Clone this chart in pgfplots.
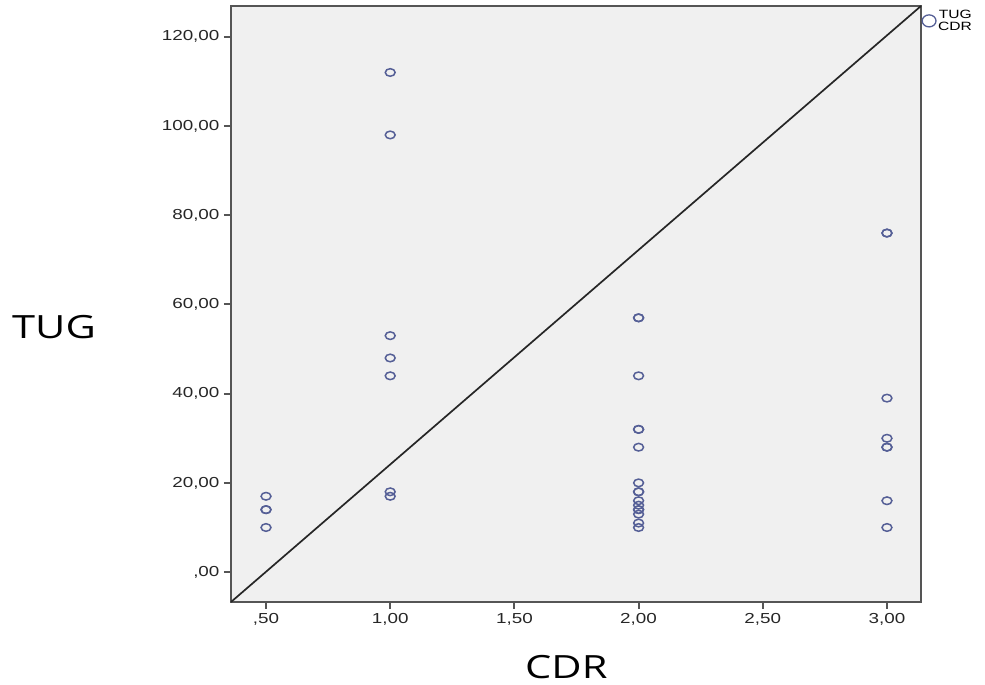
\documentclass[border=0pt]{standalone}
\usepackage{fontspec}
\setmainfont{Liberation Sans}[FakeStretch=1.3]
\newfontfamily\labelfont{Open Sans}[FakeStretch=1.3]
\usepackage{pgfplots}
\pgfplotsset{compat=1.18}

\definecolor{plotbg}{HTML}{F0F0F0}
\definecolor{frame}{HTML}{555555}
\definecolor{markc}{RGB}{85,95,150}

\begin{document}
\begin{tikzpicture}
\begin{axis}[
  name=ax,
  scale only axis,
  width=690pt, height=596pt,
  xmin=0.359, xmax=3.137, ymin=-6.7, ymax=126.9,
  axis background/.style={fill=plotbg},
  axis line style={frame, line width=2pt},
  xtick={0.5,1,1.5,2,2.5,3},
  xticklabels={{,50},{1,00},{1,50},{2,00},{2,50},{3,00}},
  ytick={0,20,40,60,80,100,120},
  yticklabels={{,00},{20,00},{40,00},{60,00},{80,00},{100,00},{120,00}},
  tick pos=left, tick align=outside,
  major tick length=7pt,
  every tick/.style={frame, line width=2pt},
  tick label style={font=\fontsize{14.5}{16}\selectfont, text=black!85},
  xticklabel style={yshift=-1pt},
  yticklabel style={xshift=-1pt},
  xlabel={\labelfont\fontsize{32}{36}\selectfont CDR},
  ylabel={\labelfont\fontsize{32}{36}\selectfont TUG},
  xlabel style={at={(axis description cs:0.486,-0.109)}, anchor=center},
  ylabel style={rotate=-90, at={(axis description cs:-0.2565,0.461)}, anchor=center},
  legend style={draw=none, fill=none, at={(axis description cs:1.0,1.0)},
    xshift=1pt, yshift=-2pt,
    anchor=north west, font=\fontsize{12}{10}\selectfont, inner sep=0pt,
    legend cell align=right},
  clip=false,
]
% reference line, corner to corner
\addplot[black!85, line width=1.7pt, forget plot] coordinates {(0.359,-6.7)(3.137,126.9)};
\addplot[only marks, mark=o, mark size=3.8pt, forget plot,
  mark options={xscale=1.3, draw=markc, line width=1.5pt}] coordinates {
  (0.5,17)(0.5,14)(0.5,14)(0.5,10)
  (1,112)(1,98)(1,53)(1,48)(1,44)(1,18)(1,17)
  (2,57)(2,57)(2,44)(2,32)(2,32)(2,28)(2,20)(2,18)(2,18)(2,16)(2,15)
  (2,14)(2,14)(2,13)(2,11)(2,10)
  (3,76)(3,76)(3,39)(3,30)(3,28)(3,28)(3,16)(3,10)
};
\addlegendimage{only marks, mark=o, mark size=6pt,
  mark options={xscale=1.15, draw=markc, line width=1.3pt}}
\addlegendentry{\shortstack[r]{TUG\\CDR}}
\end{axis}
\pgfresetboundingbox
\path ([shift={(-231pt,-83pt)}]ax.south west) rectangle ([shift={(64pt,6pt)}]ax.north east);
\end{tikzpicture}
\end{document}
